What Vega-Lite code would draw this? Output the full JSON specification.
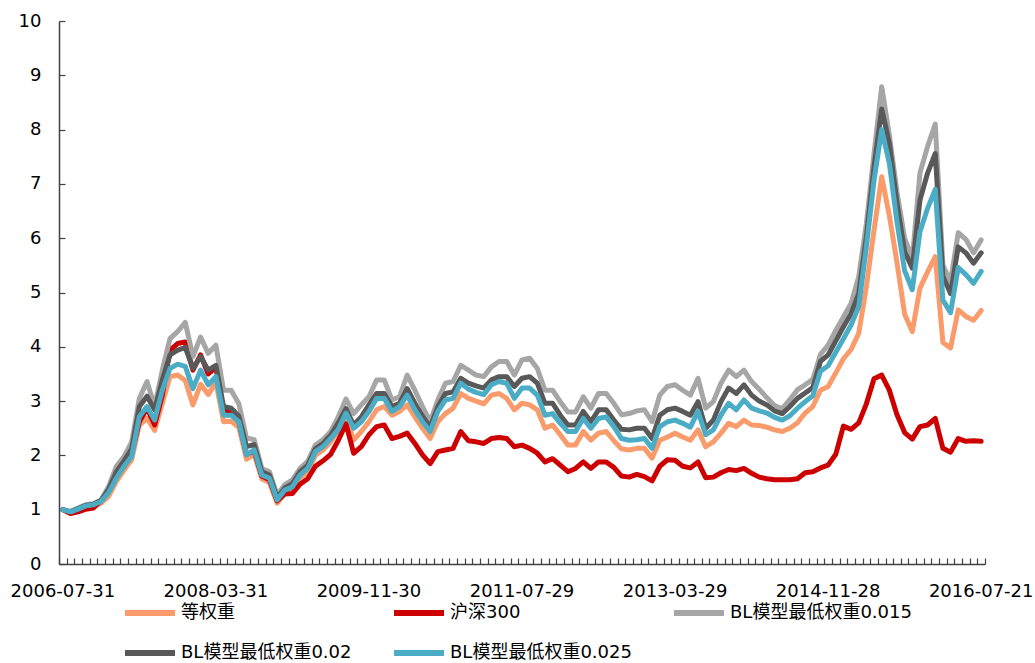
{
  "$schema": "https://vega.github.io/schema/vega-lite/v6.json",
  "width": 926,
  "height": 543,
  "autosize": {"type": "none"},
  "padding": {"left": 59, "top": 21, "right": 50, "bottom": 99},
  "background": "white",
  "config": {"view": {"stroke": null}, "font": "DejaVu Sans, Noto Sans CJK SC"},
  "data": {"values": [
    {"d":"2006-07-31","a":1.00,"b":1.00,"c":1.00,"e":1.00,"f":1.00},
    {"d":"2006-08-31","a":0.95,"b":0.93,"c":0.97,"e":0.96,"f":0.96},
    {"d":"2006-09-29","a":0.99,"b":0.96,"c":1.03,"e":1.02,"f":1.01},
    {"d":"2006-10-31","a":1.04,"b":1.01,"c":1.09,"e":1.08,"f":1.07},
    {"d":"2006-11-30","a":1.06,"b":1.03,"c":1.11,"e":1.10,"f":1.09},
    {"d":"2006-12-29","a":1.12,"b":1.17,"c":1.18,"e":1.17,"f":1.15},
    {"d":"2007-01-31","a":1.25,"b":1.36,"c":1.43,"e":1.38,"f":1.32},
    {"d":"2007-02-28","a":1.52,"b":1.64,"c":1.80,"e":1.70,"f":1.58},
    {"d":"2007-03-30","a":1.73,"b":1.80,"c":1.98,"e":1.90,"f":1.80},
    {"d":"2007-04-30","a":1.92,"b":2.04,"c":2.25,"e":2.12,"f":1.98},
    {"d":"2007-05-31","a":2.56,"b":2.62,"c":3.05,"e":2.90,"f":2.71},
    {"d":"2007-06-29","a":2.68,"b":2.87,"c":3.36,"e":3.09,"f":2.90},
    {"d":"2007-07-31","a":2.46,"b":2.56,"c":2.90,"e":2.84,"f":2.65},
    {"d":"2007-08-31","a":2.96,"b":3.11,"c":3.57,"e":3.39,"f":3.20},
    {"d":"2007-09-28","a":3.45,"b":3.94,"c":4.15,"e":3.85,"f":3.60},
    {"d":"2007-10-31","a":3.48,"b":4.06,"c":4.28,"e":3.94,"f":3.68},
    {"d":"2007-11-30","a":3.38,"b":4.09,"c":4.45,"e":3.99,"f":3.64},
    {"d":"2007-12-28","a":2.93,"b":3.57,"c":3.82,"e":3.60,"f":3.23},
    {"d":"2008-01-31","a":3.31,"b":3.85,"c":4.18,"e":3.82,"f":3.57},
    {"d":"2008-02-29","a":3.12,"b":3.50,"c":3.88,"e":3.57,"f":3.30},
    {"d":"2008-03-31","a":3.35,"b":3.62,"c":4.03,"e":3.66,"f":3.45},
    {"d":"2008-04-30","a":2.62,"b":2.82,"c":3.20,"e":2.90,"f":2.74},
    {"d":"2008-05-30","a":2.63,"b":2.80,"c":3.20,"e":2.87,"f":2.74},
    {"d":"2008-06-30","a":2.52,"b":2.62,"c":2.95,"e":2.72,"f":2.62},
    {"d":"2008-07-31","a":1.93,"b":2.02,"c":2.32,"e":2.16,"f":2.01},
    {"d":"2008-08-29","a":2.02,"b":2.08,"c":2.29,"e":2.20,"f":2.10},
    {"d":"2008-09-26","a":1.57,"b":1.62,"c":1.76,"e":1.70,"f":1.64},
    {"d":"2008-10-31","a":1.50,"b":1.55,"c":1.70,"e":1.64,"f":1.58},
    {"d":"2008-11-28","a":1.12,"b":1.16,"c":1.27,"e":1.22,"f":1.18},
    {"d":"2008-12-31","a":1.30,"b":1.29,"c":1.46,"e":1.40,"f":1.36},
    {"d":"2009-01-23","a":1.37,"b":1.30,"c":1.55,"e":1.48,"f":1.42},
    {"d":"2009-02-27","a":1.58,"b":1.47,"c":1.76,"e":1.70,"f":1.64},
    {"d":"2009-03-31","a":1.70,"b":1.57,"c":1.89,"e":1.82,"f":1.76},
    {"d":"2009-04-30","a":2.00,"b":1.80,"c":2.19,"e":2.12,"f":2.07},
    {"d":"2009-05-27","a":2.10,"b":1.90,"c":2.29,"e":2.22,"f":2.16},
    {"d":"2009-06-30","a":2.25,"b":2.02,"c":2.44,"e":2.37,"f":2.31},
    {"d":"2009-07-31","a":2.46,"b":2.28,"c":2.71,"e":2.60,"f":2.48},
    {"d":"2009-08-31","a":2.72,"b":2.58,"c":3.04,"e":2.86,"f":2.78},
    {"d":"2009-09-30","a":2.28,"b":2.04,"c":2.77,"e":2.56,"f":2.50},
    {"d":"2009-10-30","a":2.44,"b":2.16,"c":2.93,"e":2.71,"f":2.62},
    {"d":"2009-11-30","a":2.62,"b":2.38,"c":3.08,"e":2.93,"f":2.81},
    {"d":"2009-12-31","a":2.84,"b":2.53,"c":3.39,"e":3.14,"f":3.05},
    {"d":"2010-01-29","a":2.90,"b":2.56,"c":3.39,"e":3.14,"f":3.05},
    {"d":"2010-02-26","a":2.74,"b":2.31,"c":3.02,"e":2.90,"f":2.81},
    {"d":"2010-03-31","a":2.81,"b":2.35,"c":3.08,"e":2.96,"f":2.90},
    {"d":"2010-04-30","a":2.93,"b":2.41,"c":3.48,"e":3.23,"f":3.11},
    {"d":"2010-05-31","a":2.71,"b":2.22,"c":3.20,"e":2.96,"f":2.84},
    {"d":"2010-06-30","a":2.50,"b":2.01,"c":2.90,"e":2.72,"f":2.62},
    {"d":"2010-07-30","a":2.31,"b":1.85,"c":2.62,"e":2.52,"f":2.44},
    {"d":"2010-08-31","a":2.62,"b":2.07,"c":3.02,"e":2.90,"f":2.81},
    {"d":"2010-09-30","a":2.77,"b":2.10,"c":3.33,"e":3.14,"f":3.02},
    {"d":"2010-10-29","a":2.87,"b":2.13,"c":3.36,"e":3.17,"f":3.05},
    {"d":"2010-11-30","a":3.14,"b":2.44,"c":3.66,"e":3.42,"f":3.33},
    {"d":"2010-12-31","a":3.05,"b":2.27,"c":3.57,"e":3.33,"f":3.22},
    {"d":"2011-01-31","a":3.00,"b":2.25,"c":3.48,"e":3.28,"f":3.16},
    {"d":"2011-02-28","a":2.95,"b":2.22,"c":3.45,"e":3.24,"f":3.12},
    {"d":"2011-03-31","a":3.11,"b":2.31,"c":3.63,"e":3.39,"f":3.30},
    {"d":"2011-04-29","a":3.14,"b":2.33,"c":3.73,"e":3.45,"f":3.36},
    {"d":"2011-05-31","a":3.05,"b":2.31,"c":3.73,"e":3.45,"f":3.33},
    {"d":"2011-06-30","a":2.84,"b":2.16,"c":3.48,"e":3.27,"f":3.05},
    {"d":"2011-07-29","a":2.96,"b":2.19,"c":3.76,"e":3.42,"f":3.24},
    {"d":"2011-08-31","a":2.93,"b":2.13,"c":3.79,"e":3.45,"f":3.24},
    {"d":"2011-09-30","a":2.84,"b":2.04,"c":3.60,"e":3.33,"f":3.11},
    {"d":"2011-10-31","a":2.50,"b":1.88,"c":3.20,"e":2.96,"f":2.74},
    {"d":"2011-11-30","a":2.56,"b":1.94,"c":3.20,"e":2.96,"f":2.77},
    {"d":"2011-12-30","a":2.38,"b":1.82,"c":2.99,"e":2.74,"f":2.59},
    {"d":"2012-01-31","a":2.19,"b":1.70,"c":2.80,"e":2.56,"f":2.44},
    {"d":"2012-02-29","a":2.19,"b":1.76,"c":2.80,"e":2.56,"f":2.44},
    {"d":"2012-03-30","a":2.44,"b":1.88,"c":3.08,"e":2.81,"f":2.68},
    {"d":"2012-04-27","a":2.28,"b":1.76,"c":2.87,"e":2.62,"f":2.50},
    {"d":"2012-05-31","a":2.41,"b":1.88,"c":3.14,"e":2.84,"f":2.68},
    {"d":"2012-06-29","a":2.44,"b":1.88,"c":3.14,"e":2.84,"f":2.71},
    {"d":"2012-07-31","a":2.27,"b":1.78,"c":2.96,"e":2.65,"f":2.53},
    {"d":"2012-08-31","a":2.12,"b":1.62,"c":2.75,"e":2.48,"f":2.31},
    {"d":"2012-09-28","a":2.10,"b":1.60,"c":2.77,"e":2.47,"f":2.28},
    {"d":"2012-10-31","a":2.13,"b":1.65,"c":2.82,"e":2.50,"f":2.29},
    {"d":"2012-11-30","a":2.13,"b":1.61,"c":2.84,"e":2.50,"f":2.31},
    {"d":"2012-12-31","a":1.95,"b":1.53,"c":2.62,"e":2.31,"f":2.13},
    {"d":"2013-01-31","a":2.28,"b":1.80,"c":3.11,"e":2.74,"f":2.53},
    {"d":"2013-02-28","a":2.34,"b":1.92,"c":3.27,"e":2.84,"f":2.62},
    {"d":"2013-03-29","a":2.41,"b":1.91,"c":3.30,"e":2.87,"f":2.65},
    {"d":"2013-04-26","a":2.34,"b":1.80,"c":3.20,"e":2.81,"f":2.59},
    {"d":"2013-05-31","a":2.28,"b":1.77,"c":3.11,"e":2.74,"f":2.52},
    {"d":"2013-06-28","a":2.47,"b":1.88,"c":3.42,"e":2.99,"f":2.81},
    {"d":"2013-07-31","a":2.16,"b":1.59,"c":2.87,"e":2.50,"f":2.38},
    {"d":"2013-08-30","a":2.25,"b":1.60,"c":2.99,"e":2.65,"f":2.47},
    {"d":"2013-09-30","a":2.41,"b":1.68,"c":3.33,"e":2.99,"f":2.74},
    {"d":"2013-10-31","a":2.59,"b":1.74,"c":3.57,"e":3.24,"f":2.96},
    {"d":"2013-11-29","a":2.53,"b":1.72,"c":3.45,"e":3.14,"f":2.84},
    {"d":"2013-12-31","a":2.65,"b":1.76,"c":3.57,"e":3.30,"f":3.02},
    {"d":"2014-01-30","a":2.56,"b":1.67,"c":3.36,"e":3.11,"f":2.87},
    {"d":"2014-02-28","a":2.55,"b":1.60,"c":3.22,"e":3.00,"f":2.82},
    {"d":"2014-03-31","a":2.52,"b":1.57,"c":3.06,"e":2.93,"f":2.78},
    {"d":"2014-04-30","a":2.47,"b":1.55,"c":2.92,"e":2.82,"f":2.70},
    {"d":"2014-05-30","a":2.44,"b":1.55,"c":2.86,"e":2.77,"f":2.65},
    {"d":"2014-06-30","a":2.50,"b":1.55,"c":3.03,"e":2.90,"f":2.73},
    {"d":"2014-07-31","a":2.60,"b":1.57,"c":3.21,"e":3.05,"f":2.87},
    {"d":"2014-08-29","a":2.78,"b":1.68,"c":3.30,"e":3.15,"f":2.99},
    {"d":"2014-09-30","a":2.90,"b":1.70,"c":3.40,"e":3.25,"f":3.10},
    {"d":"2014-10-31","a":3.20,"b":1.77,"c":3.86,"e":3.73,"f":3.55},
    {"d":"2014-11-28","a":3.27,"b":1.82,"c":4.03,"e":3.85,"f":3.65},
    {"d":"2014-12-31","a":3.52,"b":2.02,"c":4.30,"e":4.11,"f":3.90},
    {"d":"2015-01-30","a":3.78,"b":2.54,"c":4.55,"e":4.37,"f":4.15},
    {"d":"2015-02-27","a":3.95,"b":2.48,"c":4.80,"e":4.61,"f":4.40},
    {"d":"2015-03-31","a":4.25,"b":2.60,"c":5.29,"e":4.98,"f":4.74},
    {"d":"2015-04-30","a":5.11,"b":2.95,"c":6.27,"e":6.03,"f":5.84},
    {"d":"2015-05-29","a":6.15,"b":3.41,"c":7.56,"e":7.32,"f":7.07},
    {"d":"2015-06-30","a":7.13,"b":3.48,"c":8.79,"e":8.38,"f":8.00},
    {"d":"2015-07-31","a":6.42,"b":3.20,"c":7.90,"e":7.75,"f":7.38},
    {"d":"2015-08-31","a":5.55,"b":2.75,"c":6.85,"e":6.65,"f":6.30},
    {"d":"2015-09-30","a":4.60,"b":2.42,"c":6.00,"e":5.75,"f":5.40},
    {"d":"2015-10-30","a":4.28,"b":2.30,"c":5.62,"e":5.45,"f":5.05},
    {"d":"2015-11-30","a":5.08,"b":2.53,"c":7.20,"e":6.70,"f":6.12},
    {"d":"2015-12-31","a":5.38,"b":2.56,"c":7.69,"e":7.20,"f":6.55},
    {"d":"2016-01-29","a":5.66,"b":2.68,"c":8.10,"e":7.56,"f":6.90},
    {"d":"2016-02-29","a":4.08,"b":2.13,"c":5.50,"e":5.30,"f":4.86},
    {"d":"2016-03-31","a":3.98,"b":2.06,"c":5.20,"e":4.98,"f":4.63},
    {"d":"2016-04-29","a":4.68,"b":2.31,"c":6.10,"e":5.84,"f":5.46},
    {"d":"2016-05-31","a":4.56,"b":2.26,"c":5.98,"e":5.73,"f":5.33},
    {"d":"2016-06-30","a":4.49,"b":2.27,"c":5.73,"e":5.54,"f":5.17},
    {"d":"2016-07-21","a":4.67,"b":2.26,"c":5.97,"e":5.73,"f":5.39}
  ]},
  "transform": [{"fold": ["a", "b", "c", "e", "f"], "as": ["k", "v"]}],
  "resolve": {"axis": {"x": "independent", "y": "independent"}},
  "layer": [
    {
      "mark": {"type": "line", "strokeOpacity": 0, "strokeWidth": 1},
      "encoding": {
        "detail": {"field": "k", "type": "nominal"},
        "x": {
          "field": "d", "type": "ordinal", "bandPosition": 0.5,
          "scale": {"type": "band", "paddingInner": 0, "paddingOuter": 0},
          "axis": {"orient": "bottom", "offset": -6, "title": null, "domain": false, "labels": false, "ticks": true, "tickSize": 6, "tickBand": "extent", "tickColor": "#404040", "tickWidth": 1.2, "grid": false}
        },
        "y": {
          "field": "v", "type": "quantitative",
          "scale": {"domain": [0, 10], "nice": false},
          "axis": {"orient": "left", "offset": -6, "title": null, "domain": false, "labels": false, "ticks": true, "tickSize": 6, "values": [0,1,2,3,4,5,6,7,8,9,10], "tickColor": "#404040", "tickWidth": 1.2, "grid": false}
        }
      }
    },
    {
      "mark": {"type": "line", "strokeWidth": 5, "strokeJoin": "round", "strokeCap": "round"},
      "encoding": {
        "x": {
          "field": "d", "type": "ordinal", "bandPosition": 0.5,
          "scale": {"type": "band", "paddingInner": 0, "paddingOuter": 0},
          "axis": {
            "orient": "bottom", "title": null, "labelAngle": 0, "labelOverlap": false,
            "labelExpr": "indexof(['2006-07-31','2008-03-31','2009-11-30','2011-07-29','2013-03-29','2014-11-28','2016-07-21'], datum.value) >= 0 ? datum.value : ''",
            "labelFont": "DejaVu Sans", "labelFontSize": 18, "labelColor": "#000000",
            "ticks": false, "labelPadding": 18,
            "domainColor": "#404040", "domainWidth": 1.5, "grid": false
          }
        },
        "y": {
          "field": "v", "type": "quantitative",
          "scale": {"domain": [0, 10], "nice": false},
          "axis": {
            "orient": "left", "title": null, "values": [0,1,2,3,4,5,6,7,8,9,10],
            "labelFont": "DejaVu Sans", "labelFontSize": 18, "labelColor": "#000000",
            "ticks": false, "labelPadding": 18,
            "domainColor": "#404040", "domainWidth": 1.5, "grid": false
          }
        },
        "color": {
          "field": "k", "type": "nominal",
          "scale": {"domain": ["a", "b", "c", "e", "f"], "range": ["#F99B6B", "#CC0000", "#A6A6A6", "#595959", "#4BACC6"]},
          "legend": {
            "orient": "none", "legendX": 63, "legendY": 564, "direction": "horizontal", "columns": 3,
            "title": null, "padding": 0,
            "symbolType": "stroke", "symbolSize": 2500, "symbolStrokeWidth": 6,
            "labelFont": "DejaVu Sans, Noto Sans CJK SC", "labelFontSize": 18, "labelColor": "#000000",
            "labelLimit": 400, "labelOffset": 3, "columnPadding": 30, "rowPadding": -15,
            "labelExpr": "datum.value == 'a' ? '等权重' : datum.value == 'b' ? '沪深300' : datum.value == 'c' ? 'BL模型最低权重0.015' : datum.value == 'e' ? 'BL模型最低权重0.02' : 'BL模型最低权重0.025'"
          }
        }
      }
    }
  ]
}
